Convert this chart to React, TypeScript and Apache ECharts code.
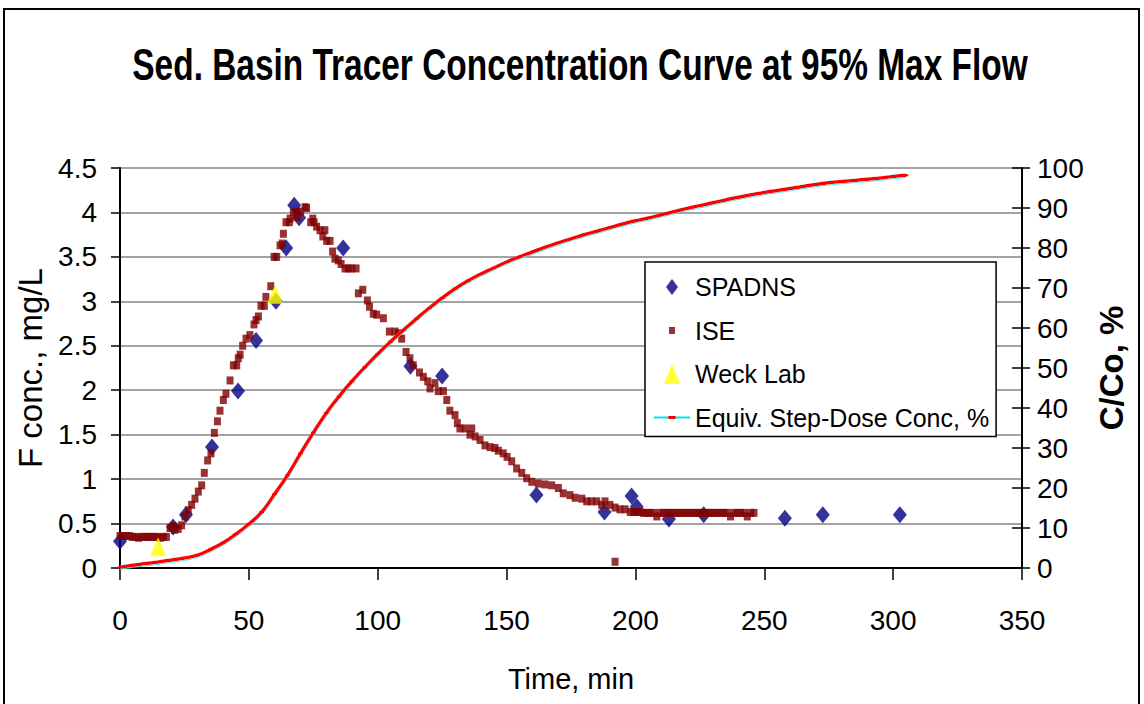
import React, { useEffect, useRef } from "react";
import * as echarts from "echarts";

const TITLE = "Sed. Basin Tracer Concentration Curve at 95% Max Flow";
const X_NAME = "Time, min";
const Y_LEFT_NAME = "F conc., mg/L";
const Y_RIGHT_NAME = "C/Co, %";

const spadnsTime = [0, 20.6, 25.6, 35.7, 45.8, 52.8, 60.5, 64.5, 67.6, 69.5, 86.6, 112.7, 125, 161.6, 188, 198.5, 200.5, 213, 226.5, 258, 272.7, 302.6];
const spadnsConc = [0.3, 0.46, 0.6, 1.36, 1.99, 2.56, 3.0, 3.6, 4.08, 3.94, 3.6, 2.27, 2.16, 0.82, 0.63, 0.81, 0.69, 0.55, 0.6, 0.56, 0.6, 0.6];

const weckTime = [14.8, 60.2];
const weckConc = [0.24, 3.08];

const iseTime = [
  0, 1.2, 2.4, 3.6, 4.8, 6, 7.2, 8.4, 9.6, 10.8, 12, 13.2, 14.4, 15.6, 16.8, 18,
  19.4, 20.6, 21.3, 22.6, 23.9, 25.2, 26.5, 27.8, 29.1, 30.4, 31.7, 32.7, 34, 35.3, 36.6, 37.8, 38.8, 40.1, 41.1, 42.7,
  44, 45.3, 45.9, 46.6, 47.6, 48.9, 50.4, 52, 52.8, 53.7, 54.7, 56, 56.6, 58.5, 59.8, 60.8, 62.1, 63, 63.4, 64.4,
  65.7, 66, 67.3, 68.6, 68.8, 70.1, 71.8, 72.4, 74, 74.8, 75.3, 76.3, 77.6, 78.7, 79.5, 80.2, 81.5, 82.5, 83.4, 84.7,
  85.8, 87.3, 88.6, 89.9, 91.6, 92.5, 94.2, 96, 96.8, 98.3, 99.6, 102.2, 104.5, 106.7, 108, 109.3, 111, 112.5, 113.8,
  116.2, 117.7, 119.4, 120.3, 122.2, 123.5, 125.5, 126.8, 128, 130, 130.9, 131.9, 133.9, 135.8, 136.5, 137.8, 139.7,
  141.6, 143.6, 145.5, 146.8, 148.7, 150.2, 152, 153.9, 155.9, 157.8, 159.8, 162.3, 164.9, 167.5, 170.1, 172, 174.6,
  176.6, 179.2, 181.1, 183, 185, 186.9, 188.2, 190.1, 192.1, 192.1, 194, 196, 198, 199.3, 200.5, 201.8, 203.1, 204.4,
  205.7, 207, 208.3, 209.6, 210.9, 212.2, 213.5, 214.8, 216.1, 217.4, 218.7, 220, 221.3, 222.6, 223.9, 225.2, 226.5,
  227.8, 229.1, 230.4, 231.7, 233, 234.3, 235.6, 236.9, 238.2, 239.5, 240.8, 242.1, 243.4, 244.7, 246
];
const iseConc = [
  0.36, 0.36, 0.36, 0.36, 0.35, 0.35, 0.34, 0.35, 0.35, 0.35, 0.35, 0.35, 0.35, 0.34, 0.35, 0.35,
  0.45, 0.47, 0.43, 0.44, 0.48, 0.58, 0.65, 0.71, 0.78, 0.86, 0.93, 1.07, 1.21, 1.29, 1.52, 1.65, 1.77, 1.89, 1.96, 2.11,
  2.28, 2.28, 2.36, 2.4, 2.5, 2.58, 2.62, 2.74, 2.79, 2.83, 2.95, 2.95, 3.05, 3.17, 3.5, 3.5, 3.63, 3.65, 3.76, 3.89,
  3.89, 3.93, 4.0, 4.01, 3.95, 4.01, 4.06, 4.05, 3.89, 3.93, 3.89, 3.84, 3.8, 3.73, 3.8, 3.68, 3.68, 3.56, 3.48, 3.46,
  3.42, 3.37, 3.37, 3.37, 3.37, 3.09, 3.13, 3.01, 2.94, 2.86, 2.85, 2.81, 2.66, 2.66, 2.64, 2.58, 2.43, 2.36, 2.28,
  2.2, 2.15, 2.1, 2.02, 2.08, 1.99, 1.99, 1.89, 1.77, 1.72, 1.63, 1.57, 1.57, 1.5, 1.57, 1.48, 1.44,
  1.38, 1.36, 1.35, 1.32, 1.29, 1.25, 1.2, 1.12, 1.07, 1.01, 0.97, 0.95, 0.94, 0.93, 0.9, 0.84, 0.82,
  0.79, 0.78, 0.75, 0.75, 0.75, 0.71, 0.75, 0.71, 0.07, 0.68, 0.66, 0.66, 0.63, 0.63, 0.63, 0.63, 0.62, 0.62,
  0.62, 0.62, 0.58, 0.62, 0.62, 0.62, 0.62, 0.62, 0.62, 0.62, 0.62, 0.62, 0.62, 0.62, 0.62, 0.62, 0.62,
  0.62, 0.62, 0.62, 0.62, 0.62, 0.62, 0.62, 0.58, 0.62, 0.62, 0.62, 0.62, 0.58, 0.62, 0.62
];

const stepTime = [0, 5, 10, 15, 20, 25, 30, 35, 40, 45, 50, 55, 60, 65, 70, 75, 80, 85, 90, 95, 100, 105, 110, 115, 120, 125, 130, 135, 140, 145, 150, 155, 160, 165, 170, 175, 180, 185, 190, 195, 200, 205, 210, 215, 220, 225, 230, 235, 240, 245, 250, 255, 260, 265, 270, 275, 280, 285, 290, 295, 300, 305];
const stepPct = [0.2, 0.7, 1.1, 1.5, 2.0, 2.5, 3.2, 4.6, 6.3, 8.5, 11, 14, 18.5, 23.2, 28.6, 33.8, 38.7, 42.9, 46.7, 50.2, 53.5, 56.6, 59.5, 62.3, 65, 67.5, 69.8, 71.8, 73.5, 75, 76.5, 77.8, 79, 80.2, 81.3, 82.3, 83.3, 84.2, 85.1, 86, 86.8, 87.5, 88.3, 89.1, 89.9, 90.6, 91.3, 92, 92.7, 93.3, 93.9, 94.4, 94.9, 95.4, 95.9, 96.3, 96.6, 96.9, 97.2, 97.5, 97.9, 98.2];

const FONT = "'Liberation Sans', Arial, sans-serif";

// legend icons drawn inside a 36 x 20 box (tiny corner points fix the box)
const BOX = "M0,0L0.01,0L0,0.01Z M36,20L35.99,20L36,19.99Z ";
const ICON_DIAMOND = "path://" + BOX + "M18,2L24,10L18,18L12,10Z";
const ICON_SQUARE = "path://" + BOX + "M15,6.5L21,6.5L21,13.5L15,13.5Z";
const ICON_TRIANGLE = "path://" + BOX + "M18,0L26,20L10,20Z";
// small red dash marker centred in a 20 x 20 box
const DASH_MARK = "path://M0,0L0.01,0L0,0.01Z M20,20L19.99,20L20,19.99Z M5.5,8L14.5,8L14.5,12L5.5,12Z";

const pairs = (xs: number[], ys: number[]) => xs.map((x, i) => [x, ys[i]]);

export default function App() {
  const ref = useRef<HTMLDivElement>(null);
  useEffect(() => {
    if (!ref.current) return;
    const chart = echarts.init(ref.current, null, { renderer: "svg" });
    chart.setOption({
      animation: false,
      backgroundColor: "#fff",
      textStyle: { fontFamily: FONT },
      graphic: [
        {
          type: "rect",
          shape: { x: 4, y: 9, width: 1135, height: 740 },
          style: { fill: "none", stroke: "#000", lineWidth: 2 },
          z: -1,
        },
        {
          type: "text",
          x: 580,
          y: 65,
          scaleX: 0.76,
          style: {
            text: TITLE,
            font: "bold 44px 'Liberation Sans', Arial, sans-serif",
            fill: "#000",
            textAlign: "center",
            textVerticalAlign: "middle",
          },
        },
      ],
      grid: { left: 120, top: 168, width: 902, height: 400, containLabel: false, outerBoundsMode: "none" },
      legend: {
        left: 645,
        top: 262,
        orient: "vertical",
        padding: [10, 7, 4, 8],
        itemGap: 13.5,
        itemWidth: 36,
        itemHeight: 20,
        borderColor: "#000",
        borderWidth: 1.5,
        backgroundColor: "#fff",
        textStyle: { fontSize: 25, fontFamily: FONT, color: "#000", lineHeight: 30 },
        data: [
          { name: "SPADNS", icon: ICON_DIAMOND },
          { name: "ISE", icon: ICON_SQUARE },
          { name: "Weck Lab", icon: ICON_TRIANGLE },
          {
            name: "Equiv. Step-Dose Conc, %",
            lineStyle: { color: "#00e5ee", width: 2, shadowColor: "transparent", shadowOffsetX: 0, shadowOffsetY: 0 },
            itemStyle: { color: "#ff0000" },
          },
        ],
      },
      xAxis: {
        type: "value",
        min: 0,
        max: 350,
        interval: 50,
        name: X_NAME,
        nameLocation: "middle",
        nameGap: 96,
        nameTextStyle: { fontSize: 29, color: "#000", fontFamily: FONT },
        axisLine: { lineStyle: { color: "#000", width: 2 } },
        axisTick: { length: 12, lineStyle: { color: "#000", width: 1.5 } },
        axisLabel: { fontSize: 28, color: "#000", margin: 38, fontFamily: FONT },
        splitLine: { show: false },
      },
      yAxis: [
        {
          type: "value",
          min: 0,
          max: 4.5,
          interval: 0.5,
          position: "left",
          name: Y_LEFT_NAME,
          nameLocation: "middle",
          nameRotate: 90,
          nameGap: 70,
          nameTextStyle: { fontSize: 33, color: "#000", fontFamily: FONT },
          axisLine: { show: true, lineStyle: { color: "#000", width: 2 } },
          axisTick: { show: true, length: 9, lineStyle: { color: "#000", width: 1.5 } },
          axisLabel: { fontSize: 28, color: "#000", margin: 23, fontFamily: FONT },
          splitLine: { show: true, lineStyle: { color: "#858585", width: 1.5 } },
        },
        {
          type: "value",
          min: 0,
          max: 100,
          interval: 10,
          position: "right",
          name: Y_RIGHT_NAME,
          nameLocation: "middle",
          nameRotate: 90,
          nameGap: 70,
          nameTextStyle: { fontSize: 33, fontWeight: "bold", color: "#000", fontFamily: FONT },
          axisLine: { show: true, lineStyle: { color: "#000", width: 2 } },
          axisTick: { show: true, length: 8, lineStyle: { color: "#000", width: 1.5 } },
          axisLabel: { fontSize: 28, color: "#000", margin: 15, fontFamily: FONT },
          splitLine: { show: false },
        },
        {
          type: "value",
          min: 0,
          max: 100,
          interval: 10,
          position: "right",
          axisLine: { show: false },
          axisTick: { show: true, inside: true, length: 10, lineStyle: { color: "#000", width: 1.5 } },
          axisLabel: { show: false },
          splitLine: { show: false },
        },
      ],
      series: [
        {
          name: "SPADNS",
          type: "scatter",
          yAxisIndex: 0,
          symbol: "diamond",
          symbolSize: [14, 17],
          itemStyle: { color: "#000080" },
          data: pairs(spadnsTime, spadnsConc),
          z: 2,
        },
        {
          name: "ISE",
          type: "scatter",
          yAxisIndex: 0,
          symbol: "rect",
          symbolSize: [7, 8],
          itemStyle: { color: "#800000" },
          data: pairs(iseTime, iseConc),
          z: 3,
        },
        {
          name: "Weck Lab",
          type: "scatter",
          yAxisIndex: 0,
          symbol: "triangle",
          symbolSize: [16, 19],
          itemStyle: { color: "#ffff00" },
          data: pairs(weckTime, weckConc),
          z: 4,
        },
        {
          name: "Equiv. Step-Dose Conc, %",
          type: "line",
          yAxisIndex: 1,
          smooth: true,
          symbol: DASH_MARK,
          symbolSize: 10,
          showSymbol: true,
          lineStyle: {
            color: "#ff0000",
            width: 3.5,
            shadowColor: "#00e5ee",
            shadowBlur: 0,
            shadowOffsetX: 0,
            shadowOffsetY: 0.7,
          },
          itemStyle: { color: "#ff0000" },
          data: pairs(stepTime, stepPct),
          z: 5,
        },
      ],
    });
    return () => chart.dispose();
  }, []);
  return (
    <div
      ref={ref}
      style={{ position: "absolute", left: 0, top: 0, width: 1144, height: 704 }}
    />
  );
}
